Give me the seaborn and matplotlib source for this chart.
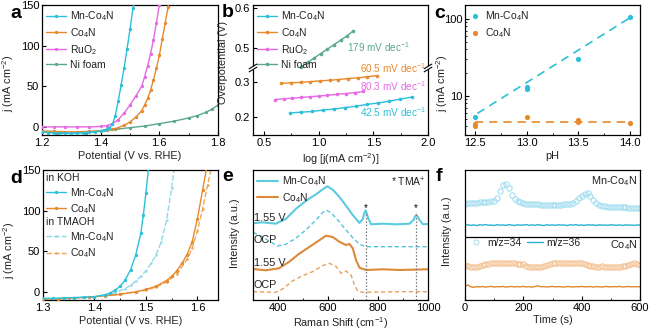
import numpy as np
import matplotlib
matplotlib.use("Agg")
import matplotlib.pyplot as plt
import seaborn as sns
from matplotlib.lines import Line2D
from matplotlib.ticker import MultipleLocator, NullLocator, FixedLocator, NullFormatter

# ---------------- data ----------------
# (a) LSV curves
a_E_mn = [1.20, 1.22, 1.24, 1.26, 1.28, 1.30, 1.32, 1.34, 1.36, 1.38, 1.40, 1.41, 1.42, 1.43, 1.44, 1.45, 1.46, 1.47, 1.48, 1.49, 1.50, 1.51, 1.52]
a_J_mn = [-6, -7, -7.5, -8, -8, -8, -7.5, -7, -6.5, -6, -5, -4, -3, -1, 3, 14, 32, 52, 73, 96, 120, 146, 172]
a_E_co = [1.20, 1.24, 1.28, 1.32, 1.36, 1.40, 1.42, 1.44, 1.46, 1.48, 1.50, 1.52, 1.54, 1.55, 1.56, 1.57, 1.58, 1.59, 1.60, 1.61, 1.62, 1.63, 1.64]
a_J_co = [-5, -5.5, -6, -6, -5.5, -4.5, -4, -3, -1, 2, 6, 12, 20, 27, 35, 45, 58, 72, 88, 108, 128, 148, 170]
a_E_ru = [1.20, 1.24, 1.28, 1.32, 1.36, 1.40, 1.42, 1.44, 1.46, 1.48, 1.50, 1.52, 1.54, 1.55, 1.56, 1.57, 1.58, 1.59, 1.60, 1.61]
a_J_ru = [0, 0, 0, 0, 0, 0.5, 1.5, 4, 9, 17, 27, 38, 50, 62, 75, 90, 107, 128, 150, 175]
a_E_ni = [1.20, 1.25, 1.30, 1.35, 1.40, 1.45, 1.50, 1.55, 1.60, 1.65, 1.70, 1.73, 1.76, 1.78, 1.80]
a_J_ni = [-6, -7, -8, -7, -5, -3, -1, 1, 4, 7, 11, 14, 18, 22, 27]

# (b) Tafel
b_mn_x = [0.74, 0.84, 0.94, 1.04, 1.14, 1.24, 1.34, 1.44, 1.54, 1.64, 1.74, 1.85]
b_mn_y = [0.212, 0.214, 0.216, 0.220, 0.223, 0.227, 0.231, 0.236, 0.240, 0.245, 0.251, 0.257]
b_co_x = [0.66, 0.75, 0.84, 0.92, 1.01, 1.10, 1.18, 1.27, 1.36, 1.44, 1.53]
b_co_y = [0.296, 0.298, 0.299, 0.301, 0.303, 0.305, 0.307, 0.310, 0.312, 0.315, 0.318]
b_ru_x = [0.60, 0.68, 0.76, 0.84, 0.92, 1.00, 1.08, 1.17, 1.25, 1.33, 1.41]
b_ru_y = [0.250, 0.252, 0.254, 0.256, 0.258, 0.260, 0.262, 0.265, 0.267, 0.270, 0.273]
b_ni_x = [0.84, 0.90, 0.96, 1.02, 1.08, 1.14, 1.20, 1.26, 1.31]
b_ni_y = [0.453, 0.464, 0.475, 0.486, 0.497, 0.508, 0.519, 0.530, 0.541]
b_slopes = ["179 mV dec$^{-1}$", "60.5 mV dec$^{-1}$", "80.3 mV dec$^{-1}$", "42.5 mV dec$^{-1}$"]

# (c) pH dependence
c_ph_mn = [12.5, 13.0, 13.0, 13.5, 14.0]
c_j_mn = [5.3, 12.3, 12.8, 29.5, 105]
c_ph_co = [12.5, 12.5, 13.0, 13.5, 13.5, 14.0]
c_j_co = [4.0, 4.3, 5.3, 4.6, 4.9, 4.4]
c_fit_ph_mn = [12.52, 14.0]
c_fit_j_mn = [5.9, 102]
c_fit_ph_co = [12.5, 14.0]
c_fit_j_co = [4.55, 4.55]

# (d) KOH vs TMAOH
d_E_koh_mn = [1.30, 1.32, 1.34, 1.36, 1.38, 1.40, 1.42, 1.43, 1.44, 1.45, 1.46, 1.47, 1.48, 1.49, 1.495, 1.50, 1.505]
d_J_koh_mn = [-8, -8, -7.5, -7, -6.5, -6, -3.5, -1.5, 2, 7, 15, 27, 45, 72, 95, 122, 152]
d_E_tma_mn = [1.30, 1.33, 1.36, 1.39, 1.42, 1.44, 1.46, 1.47, 1.48, 1.49, 1.50, 1.51, 1.52, 1.53, 1.54, 1.55, 1.555]
d_J_tma_mn = [-9, -8.5, -8, -6.5, -4, -1, 4, 8, 13, 19, 26, 35, 46, 62, 88, 128, 152]
d_E_koh_co = [1.30, 1.33, 1.36, 1.39, 1.42, 1.45, 1.48, 1.50, 1.52, 1.54, 1.55, 1.56, 1.57, 1.58, 1.59, 1.60, 1.61, 1.62]
d_J_koh_co = [-9, -8.5, -7.5, -6.5, -5, -3, 0, 3, 7, 14, 19, 26, 35, 46, 62, 90, 125, 160]
d_E_tma_co = [1.30, 1.35, 1.40, 1.44, 1.48, 1.50, 1.52, 1.54, 1.56, 1.58, 1.59, 1.60, 1.61, 1.62, 1.63]
d_J_tma_co = [-9, -8, -6, -3, 0, 2, 6, 12, 22, 40, 54, 75, 102, 132, 162]

# (e) Raman
e_x_mn_v = [300, 337, 391, 431, 471, 511, 552, 585, 598, 619, 645, 672, 699, 726, 739, 745, 750, 755, 761, 772, 819, 873, 926, 942, 948, 953, 958, 967, 980, 1000]
e_y_mn_v = [76.7, 77.7, 76.3, 81, 91, 99, 105.7, 111.7, 113.7, 110.3, 103.3, 94.3, 85, 77, 81, 86.5, 89.7, 86.5, 81.7, 75.7, 76.3, 75.7, 76.3, 80, 83.5, 85, 83.5, 79.7, 75.7, 76]
e_x_mn_o = [300, 337, 364, 398, 431, 471, 511, 552, 578, 592, 612, 639, 672, 699, 726, 752, 819, 1000]
e_y_mn_o = [67.7, 63.3, 59, 54, 55.7, 61.7, 70, 80, 87.3, 90, 87.3, 80, 70, 62.3, 55.7, 53.3, 53.3, 53.3]
e_x_co_v = [300, 351, 404, 445, 485, 525, 565, 592, 619, 645, 672, 686, 699, 712, 726, 752, 819, 886, 1000]
e_y_co_v = [31, 29.7, 31.7, 38.3, 46.3, 53, 59.7, 64.3, 63, 58.3, 55, 56, 51.7, 40, 32.3, 30, 30.7, 30, 30.7]
e_x_co_o = [300, 391, 418, 458, 498, 538, 578, 605, 632, 652, 672, 692, 706, 719, 739, 886, 1000]
e_y_co_o = [8.3, 7.7, 11, 19, 24.3, 28.3, 34.3, 36.7, 33.7, 26.7, 29, 25, 15, 9, 7.7, 8.3, 8.3]
e_peaks = [750, 953]
e_labels = ["1.55 V", "OCP", "1.55 V", "OCP"]
e_label_y = [81.7, 60, 36.7, 15]

# (f) DEMS
f_t = [0, 10, 20, 30, 40, 50, 60, 70, 80, 90,
       100, 110, 120, 130, 140, 150, 160, 170, 180, 190,
       200, 210, 220, 230, 240, 250, 260, 270, 280, 290,
       300, 310, 320, 330, 340, 350, 360, 370, 380, 390,
       400, 410, 420, 430, 440, 450, 460, 470, 480, 490,
       500, 510, 520, 530, 540, 550, 560, 570, 580, 590, 600]
f_mn_34 = [96.5, 96.8, 97.0, 96.9, 97.3, 97.6, 97.8, 98.2, 98.4, 98.9,
           99.5, 102.5, 109.0, 115.5, 116.5, 112.0, 105.5, 101.0, 98.8, 97.6,
           97.0, 96.5, 96.2, 96.0, 95.8, 95.6, 95.5, 95.4, 95.3, 95.4,
           95.2, 95.3, 95.4, 95.3, 95.6, 95.8, 96.3, 97.2, 99.0, 101.8,
           104.5, 106.5, 106.8, 104.2, 100.5, 97.3, 95.3, 94.2, 93.6, 93.4,
           93.2, 93.0, 93.1, 92.8, 92.6, 92.7, 92.4, 92.3, 92.2, 92.3, 92.0]
f_mn_36 = [74.8, 75.3, 74.6, 75.1, 74.4, 75.2, 74.9, 75.5, 74.7, 75.0,
           74.5, 75.3, 74.8, 75.1, 74.6, 75.4, 74.9, 74.5, 75.2, 74.8,
           75.0, 75.4, 74.6, 75.1, 74.7, 75.3, 74.9, 74.4, 75.2, 74.8,
           75.1, 74.6, 75.3, 74.9, 75.0, 74.5, 75.2, 74.8, 75.4, 74.7,
           75.0, 74.6, 75.3, 74.9, 75.1, 74.5, 75.2, 74.8, 75.0, 74.6,
           75.3, 74.9, 74.7, 75.1, 74.5, 75.2, 74.8, 75.0, 74.6, 75.1, 74.8]
f_co_34 = [34.8, 33.8, 33.2, 33.0, 33.4, 33.9, 35.0, 36.0, 36.5, 36.8,
           37.0, 36.9, 37.1, 36.8, 37.0, 36.7, 36.9, 36.6, 36.4, 36.5,
           35.8, 34.5, 33.3, 32.8, 32.6, 32.9, 33.1, 33.6, 34.8, 36.0,
           36.9, 37.2, 37.0, 37.4, 37.1, 37.3, 37.0, 36.8, 37.1, 36.9,
           36.6, 36.0, 35.2, 34.3, 33.8, 33.5, 33.3, 33.6, 33.2, 33.4,
           33.1, 33.3, 33.0, 33.4, 33.6, 34.2, 35.3, 36.4, 36.6, 35.6, 35.0]
f_co_36 = [13.6, 15.0, 13.2, 12.6, 13.4, 13.1, 13.5, 12.9, 13.3, 13.6,
           13.0, 13.4, 13.2, 13.6, 12.9, 13.3, 13.5, 13.0, 13.4, 13.2,
           13.6, 13.1, 13.3, 12.9, 13.5, 14.2, 13.2, 13.4, 13.0, 13.3,
           13.6, 13.1, 13.4, 13.2, 12.9, 13.5, 13.3, 13.0, 13.4, 13.2,
           13.6, 13.1, 13.3, 13.5, 12.9, 13.4, 13.2, 13.0, 13.5, 13.3,
           13.1, 13.4, 13.2, 13.6, 13.0, 13.3, 13.5, 13.1, 13.4, 13.2, 13.3]

# ---------------- style ----------------
sns.set_style("ticks")
plt.rcParams.update({
    "font.family": ["Liberation Sans", "DejaVu Sans"],
    "mathtext.fontset": "custom",
    "mathtext.rm": "Liberation Sans",
    "mathtext.it": "Liberation Sans:italic",
    "mathtext.bf": "Liberation Sans:bold",
    "font.size": 8,
    "axes.labelsize": 7.8,
    "xtick.labelsize": 8,
    "ytick.labelsize": 8,
    "legend.fontsize": 7.5,
    "xtick.direction": "in",
    "ytick.direction": "in",
    "xtick.major.size": 3,
    "ytick.major.size": 3,
    "xtick.minor.size": 1.6,
    "ytick.minor.size": 1.6,
    "xtick.major.width": 0.8,
    "ytick.major.width": 0.8,
    "axes.linewidth": 0.9,
    "axes.edgecolor": "black",
    "xtick.color": "black",
    "ytick.color": "black",
    "axes.labelcolor": "#222222",
    "text.color": "#222222",
    "xtick.major.pad": 2.5,
    "ytick.major.pad": 2,
    "axes.labelpad": 2,
})

CY = "#2cbfd9"
OR = "#e8892c"
MG = "#e56ae3"
NI = "#5aa88d"
CY_L = "#92d9e8"
OR_L = "#efa656"

W, H = 658, 334
fig = plt.figure(figsize=(W / 100, H / 100), dpi=100)


def add_ax(l, t, r, b):
    return fig.add_axes([l / W, 1 - b / H, (r - l) / W, (b - t) / H])


def line(ax, x, y, color, label=None, ls="-", lw=1.0, ms=2.4, marker="o", zorder=2):
    sns.lineplot(x=x, y=y, color=color, label=label, linestyle=ls, lw=lw,
                 marker=marker, markersize=ms, markeredgewidth=0,
                 sort=False, estimator=None, ax=ax, zorder=zorder)


def leg(ax, **kw):
    opts = dict(loc="upper left", bbox_to_anchor=(0, 1), frameon=False,
                handlelength=1.9, handletextpad=0.4, labelspacing=0.3,
                borderaxespad=0.2, borderpad=0.2)
    opts.update(kw)
    return ax.legend(**opts)


def plabel(x, ybase, s):
    fig.text(x / W, 1 - ybase / H, s, fontsize=14, fontweight="bold",
             color="black", va="baseline", ha="left")


# ---------------- (a) ----------------
ax = add_ax(42, 5, 218, 135)
line(ax, a_E_ni, a_J_ni, NI, "Ni foam", zorder=2)
line(ax, a_E_ru, a_J_ru, MG, "RuO$_2$", zorder=3)
line(ax, a_E_co, a_J_co, OR, "Co$_4$N", zorder=4)
line(ax, a_E_mn, a_J_mn, CY, "Mn-Co$_4$N", zorder=5)
ax.set_xlim(1.2, 1.8)
ax.set_ylim(-10, 150)
ax.xaxis.set_major_locator(MultipleLocator(0.2))
ax.xaxis.set_minor_locator(MultipleLocator(0.1))
ax.set_yticks([0, 50, 100, 150])
ax.set_xlabel("Potential (V vs. RHE)")
ax.set_ylabel("j (mA cm$^{-2}$)")
ax.yaxis.set_label_coords(-0.15, 0.40)
h, l = ax.get_legend_handles_labels()
leg(ax, handles=h[::-1], labels=l[::-1])

# ---------------- (b) ----------------
ax = add_ax(253, 5, 428, 135)
line(ax, b_mn_x, b_mn_y, CY, "Mn-Co$_4$N", ms=2.6)
line(ax, b_co_x, b_co_y, OR, "Co$_4$N", ms=2.6)
line(ax, b_ru_x, b_ru_y, MG, "RuO$_2$", ms=2.6)
line(ax, b_ni_x, b_ni_y, NI, "Ni foam", ms=2.6)
LO, HI, K = 0.34, 0.45, 1.143


def fwd(y):
    y = np.asarray(y, dtype=float)
    return np.where(y <= LO, y, np.where(y >= HI, LO + (y - HI) * K, LO))


def inv(t):
    t = np.asarray(t, dtype=float)
    return np.where(t <= LO, t, HI + (t - LO) / K)


ax.set_yscale("function", functions=(fwd, inv))
ax.set_ylim(0.149, 0.607)
ax.yaxis.set_major_locator(FixedLocator([0.2, 0.3, 0.5, 0.6]))
ax.yaxis.set_minor_locator(NullLocator())
ax.set_yticklabels(["0.2", "0.3", "0.5", "0.6"])
ax.set_xlim(0.4, 2.0)
ax.xaxis.set_major_locator(MultipleLocator(0.5))
ax.xaxis.set_minor_locator(MultipleLocator(0.25))
ax.set_xlabel("log [j(mA cm$^{-2}$)]")
ax.set_ylabel("Overpotential (V)")
ax.yaxis.set_label_coords(-0.145, 0.56)
leg(ax)
slope_pos = [(0.535, 0.68, NI), (0.61, 0.515, OR), (0.61, 0.375, MG), (0.61, 0.175, CY)]
for s, (xf, yf, c) in zip(b_slopes, slope_pos):
    ax.text(xf, yf, s, color=c, fontsize=7.2, transform=ax.transAxes, va="center", ha="left")
yb = (fwd(LO) - 0.149) / (fwd(0.607) - 0.149)
for xf in (0.0, 1.0):
    ax.add_patch(plt.Rectangle((xf - 0.025, yb - 0.012), 0.05, 0.024, transform=ax.transAxes,
                               facecolor="white", edgecolor="none", clip_on=False, zorder=6))
    for off in (-0.012, 0.012):
        ax.plot([xf - 0.022, xf + 0.022], [yb + off - 0.018, yb + off + 0.018], transform=ax.transAxes,
                color="black", lw=0.8, clip_on=False, zorder=7)

# ---------------- (c) ----------------
ax = add_ax(465, 5, 640, 135)
sns.scatterplot(x=c_ph_mn, y=c_j_mn, color=CY, s=14, linewidth=0, ax=ax, label="Mn-Co$_4$N", zorder=3)
sns.scatterplot(x=c_ph_co, y=c_j_co, color=OR, s=14, linewidth=0, ax=ax, label="Co$_4$N", zorder=3)
sns.lineplot(x=c_fit_ph_mn, y=c_fit_j_mn, color=CY, linestyle=(0, (5, 3.5)), lw=1.2, ax=ax, estimator=None, sort=False)
sns.lineplot(x=c_fit_ph_co, y=c_fit_j_co, color=OR, linestyle=(0, (5, 3.5)), lw=1.2, ax=ax, estimator=None, sort=False)
ax.set_yscale("log")
ax.set_ylim(3.1, 150)
ax.set_xlim(12.4, 14.1)
ax.xaxis.set_major_locator(MultipleLocator(0.5))
ax.xaxis.set_minor_locator(MultipleLocator(0.25))
ax.set_yticks([10, 100])
ax.set_yticklabels(["10", "100"])
ax.yaxis.set_minor_formatter(NullFormatter())
ax.set_xlabel("pH")
ax.set_ylabel("j (mA cm$^{-2}$)")
ax.yaxis.set_label_coords(-0.085, 0.40)
leg(ax, handletextpad=0.3, handlelength=1.2)

# ---------------- (d) ----------------
ax = add_ax(43, 170, 218, 300)
line(ax, d_E_tma_co, d_J_tma_co, OR_L, "Co$_4$N", ls=(0, (4, 1.5)), ms=1.8, zorder=2)
line(ax, d_E_tma_mn, d_J_tma_mn, CY_L, "Mn-Co$_4$N", ls=(0, (4, 1.5)), ms=1.8, zorder=2)
line(ax, d_E_koh_co, d_J_koh_co, OR, "Co$_4$N", zorder=3)
line(ax, d_E_koh_mn, d_J_koh_mn, CY, "Mn-Co$_4$N", zorder=4)
ax.set_xlim(1.3, 1.64)
ax.set_ylim(-10, 150)
ax.xaxis.set_major_locator(MultipleLocator(0.1))
ax.xaxis.set_minor_locator(MultipleLocator(0.05))
ax.set_yticks([0, 50, 100, 150])
ax.set_xlabel("Potential (V vs. RHE)")
ax.set_ylabel("j (mA cm$^{-2}$)")
ax.yaxis.set_label_coords(-0.15, 0.38)
h, l = ax.get_legend_handles_labels()
l1 = leg(ax, handles=[h[3], h[2]], labels=[l[3], l[2]], title="in KOH", alignment="left",
         title_fontsize=7.5, borderaxespad=0.1, labelspacing=0.25)
ax.add_artist(l1)
leg(ax, handles=[h[1], h[0]], labels=[l[1], l[0]], title="in TMAOH", alignment="left",
    title_fontsize=7.5, bbox_to_anchor=(0, 0.66), borderaxespad=0.1, labelspacing=0.25)

# ---------------- (e) ----------------
ax = add_ax(253, 170, 428, 300)
line(ax, e_x_mn_o, e_y_mn_o, "#55c4da", ls=(0, (3, 2)), lw=1.0, marker=None)
line(ax, e_x_co_o, e_y_co_o, "#e6a061", ls=(0, (3, 2)), lw=1.0, marker=None)
line(ax, e_x_mn_v, e_y_mn_v, "#5ccbe0", "Mn-Co$_4$N", lw=1.5, marker=None)
line(ax, e_x_co_v, e_y_co_v, "#dc8a3a", "Co$_4$N", lw=1.5, marker=None)
for p in e_peaks:
    ax.axvline(p, ymin=0, ymax=0.68, color="#777777", ls=(0, (1.2, 1.5)), lw=0.9)
    ax.text(p, 92, "*", ha="center", va="center", fontsize=7, color="black")
for s, yv in zip(e_labels, e_label_y):
    ax.text(303, yv, s, ha="left", va="center", fontsize=7.8)
ax.text(0.985, 0.905, "* TMA$^{+}$", transform=ax.transAxes, ha="right", va="center", fontsize=7.5)
ax.set_xlim(300, 1000)
ax.set_ylim(0, 130)
ax.xaxis.set_major_locator(MultipleLocator(200))
ax.xaxis.set_minor_locator(MultipleLocator(100))
ax.set_yticks([])
ax.set_xlabel("Raman Shift (cm$^{-1}$)", labelpad=1)
ax.set_ylabel("Intensity (a.u.)")
ax.yaxis.set_label_coords(-0.075, 0.51)
leg(ax, handlelength=2.0)

# ---------------- (f) ----------------
ax = add_ax(465, 170, 640, 300)
sns.lineplot(x=f_t, y=f_mn_34, linestyle="none", marker="o", markersize=3.8, markerfacecolor="none",
             markeredgecolor="#a3def0", markeredgewidth=0.8, color="#a3def0", ax=ax, estimator=None, sort=False)
sns.lineplot(x=f_t, y=f_mn_36, color="#27b2d0", lw=1.0, ax=ax, estimator=None, sort=False)
sns.lineplot(x=f_t, y=f_co_34, linestyle="none", marker="o", markersize=3.8, markerfacecolor="none",
             markeredgecolor="#f4c293", markeredgewidth=0.8, color="#f4c293", ax=ax, estimator=None, sort=False)
sns.lineplot(x=f_t, y=f_co_36, color="#e0882c", lw=1.0, ax=ax, estimator=None, sort=False)
ax.axhline(63, color="black", lw=0.9)
ax.set_xlim(0, 600)
ax.set_ylim(0, 130)
ax.xaxis.set_major_locator(MultipleLocator(200))
ax.xaxis.set_minor_locator(MultipleLocator(100))
ax.set_yticks([])
ax.set_xlabel("Time (s)", labelpad=1)
ax.set_ylabel("Intensity (a.u.)")
ax.yaxis.set_label_coords(-0.075, 0.53)
ax.text(0.985, 0.965, "Mn-Co$_4$N", transform=ax.transAxes, ha="right", va="top", fontsize=7.8)
ax.text(0.985, 0.475, "Co$_4$N", transform=ax.transAxes, ha="right", va="top", fontsize=7.8)
hf = [Line2D([], [], ls="none", marker="o", markersize=3.5, markerfacecolor="none",
             markeredgecolor="#b9dfe8", markeredgewidth=0.8),
      Line2D([], [], color="#27b2d0", lw=1.0)]
ax.legend(handles=hf, labels=["m/z=34", "m/z=36"], loc="upper left", bbox_to_anchor=(0, 0.5),
          ncol=2, frameon=False, handlelength=1.5, handletextpad=0.3, columnspacing=0.6,
          borderaxespad=0.1, borderpad=0.2)

# ---------------- panel labels ----------------
plabel(10, 18, "a")
plabel(222, 17, "b")
plabel(434, 18, "c")
plabel(10, 183, "d")
plabel(222, 181, "e")
plabel(436, 181, "f")

fig.savefig("out.png", dpi=100)
